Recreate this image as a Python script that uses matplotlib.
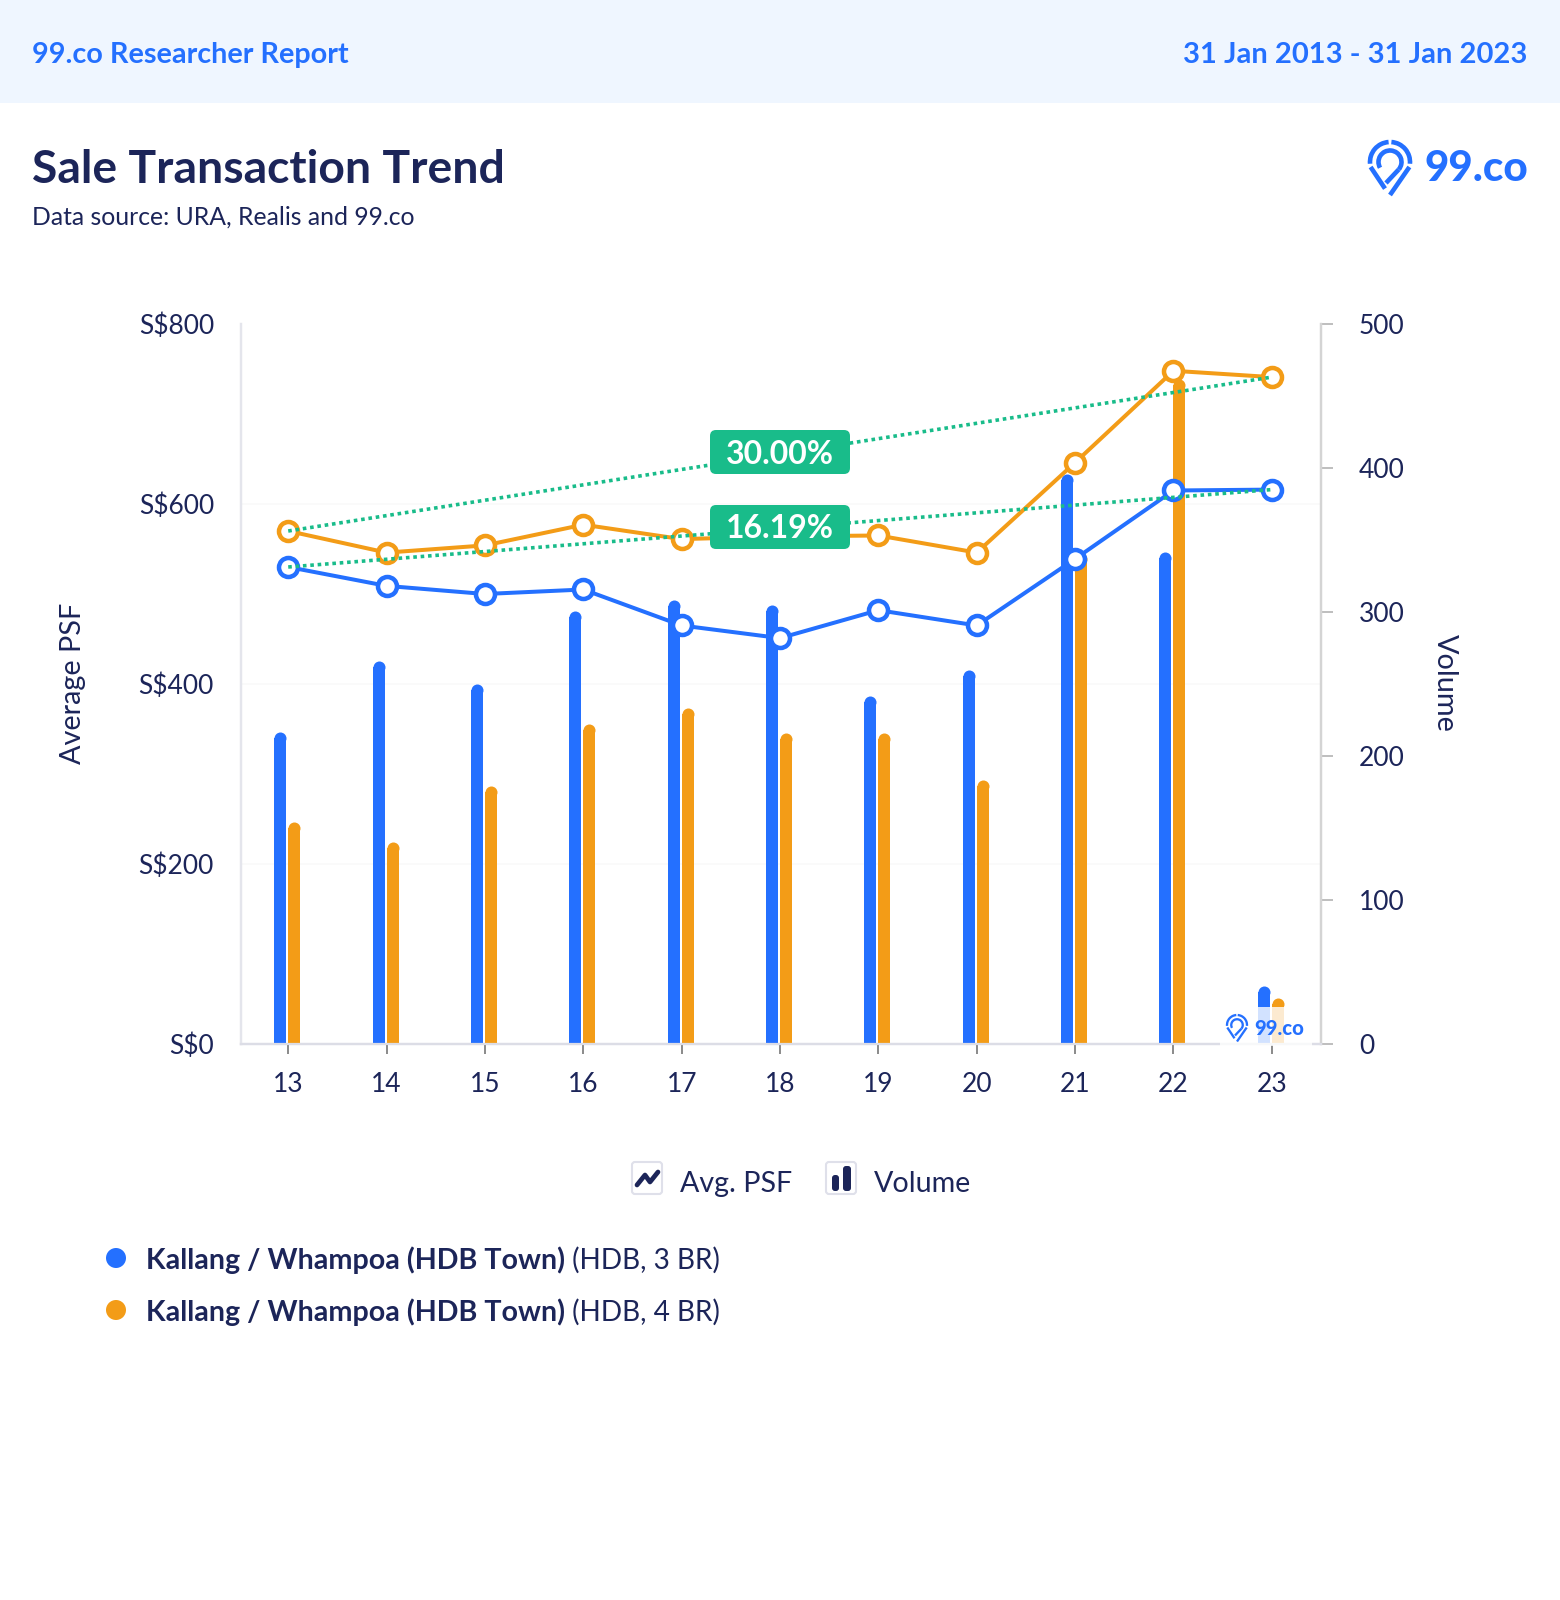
import matplotlib
matplotlib.use('Agg')
import matplotlib.pyplot as plt
from matplotlib.patches import FancyBboxPatch, Rectangle, Circle, Arc

plt.rcParams['font.family'] = ['Lato', 'DejaVu Sans']

# ==================== data ====================
years = ['13', '14', '15', '16', '17', '18', '19', '20', '21', '22', '23']
psf_3br = [530, 509, 500, 505, 465, 451, 482, 465, 539, 615, 616]
psf_4br = [570, 546, 554, 577, 561, 564, 565, 546, 646, 748, 741]
vol_3br = [217, 266, 250, 301, 308, 305, 242, 260, 396, 342, 40]
vol_4br = [154, 140, 179, 222, 233, 216, 216, 183, 341, 462, 32]
psf_ticks = [0, 200, 400, 600, 800]
vol_ticks = [0, 100, 200, 300, 400, 500]
growth_labels = ['30.00%', '16.19%']
series_names = ['Kallang / Whampoa (HDB Town)', 'Kallang / Whampoa (HDB Town)']
series_types = ['(HDB, 3 BR)', '(HDB, 4 BR)']

BLUE = '#2470ff'
ORANGE = '#f39c17'
GREEN = '#19bc8a'
NAVY = '#1c2559'
W, H = 1560, 1600
PX = 72 / 100  # pixels to points

fig = plt.figure(figsize=(15.6, 16), dpi=100, facecolor='white')

# plot area in pixels
L, R, T, B = 241, 1321, 324, 1044
ax = fig.add_axes([L / W, 1 - B / H, (R - L) / W, (B - T) / H])
vol = ax.twinx()
xs = list(range(len(years)))
xlim = (-0.48, 10.5)

# ==================== volume bars ====================
ax.set_zorder(2)
vol.set_zorder(1)
ax.patch.set_visible(False)
bar_w = 12 / 98.3
r_vol = 6 * 500 / (B - T)  # cap radius in volume units
for values, color, shift in [(vol_3br, BLUE, -8), (vol_4br, ORANGE, 6)]:
    bx = [x + shift / 98.3 for x in xs]
    vol.bar(bx, [v - r_vol for v in values], width=bar_w, color=color, linewidth=0, zorder=3)
    vol.plot(bx, [v - r_vol for v in values], ls='none', marker='o', ms=12 * PX,
             mec='none', mfc=color, zorder=3)
vol.set_xlim(*xlim)
vol.set_ylim(0, 500)
vol.set_yticks(vol_ticks)
# gridlines of the PSF axis, kept here so they stay behind the bars
vol.set_yticks([v * 500 / 800 for v in psf_ticks], minor=True)
vol.grid(axis='y', which='minor', color='#f9f9fa', lw=1.2, zorder=0)
vol.tick_params(axis='y', which='minor', length=0)
vol.tick_params(axis='y', length=12 * PX, width=1.3, color='#b9b9b9', pad=26 * PX,
                labelsize=19, labelcolor=NAVY)
vol.set_ylabel('Volume', rotation=270, fontsize=20.8, color=NAVY)
vol.yaxis.set_label_coords((1458 - L) / (R - L), 1 - (683 - T) / (B - T))

# ==================== PSF lines ====================
ax.set_xlim(*xlim)
ax.set_ylim(0, 800)
ax.set_xticks(xs)
ax.set_xticklabels(years)
ax.set_yticks(psf_ticks)
ax.set_yticklabels([f'S${v}' for v in psf_ticks])
ax.tick_params(axis='y', length=0, pad=27 * PX, labelsize=19, labelcolor=NAVY)
ax.tick_params(axis='x', length=10 * PX, width=1.2, color='#777777', pad=18 * PX,
               labelsize=19, labelcolor=NAVY)
ax.set_ylabel('Average PSF', fontsize=20.8, color=NAVY)
ax.yaxis.set_label_coords((86 - L) / (R - L), 1 - (683 - T) / (B - T))

for values, color in [(psf_3br, BLUE), (psf_4br, ORANGE)]:
    ax.plot(xs, values, color=color, lw=4 * PX, zorder=4, marker='o', ms=19 * PX,
            mfc='white', mec=color, mew=4.5 * PX)
for values in (psf_4br, psf_3br):
    ax.plot([xs[0], xs[-1]], [values[0], values[-1]], color=GREEN, lw=3.6 * PX,
            ls=(0, (1, 1.05)), zorder=5)

for a in (ax, vol):
    a.spines['top'].set_visible(False)
    a.spines['left'].set_color('#e4e5ec')
    a.spines['right'].set_color('#d4d4d4')
    a.spines['bottom'].set_color('#dcdde6')
    for s in a.spines.values():
        s.set_linewidth(1.6)

# ==================== overlay in pixel coordinates ====================
ov = fig.add_axes([0, 0, 1, 1], zorder=10)
ov.set_xlim(0, W)
ov.set_ylim(H, 0)
ov.axis('off')


def logo(x, y, s, text_size):
    # pin mark centred on (x, y), s = outer radius in pixels
    lw = s * 0.23 * PX
    kw = dict(color=BLUE, lw=lw, solid_capstyle='butt')
    ov.add_patch(Arc((x, y), 2 * s, 2 * s, theta1=175, theta2=266, color=BLUE, lw=lw))
    ov.add_patch(Arc((x, y), 2 * s, 2 * s, theta1=274, theta2=365, color=BLUE, lw=lw))
    ov.add_patch(Arc((x, y), 1.15 * s, 1.15 * s, theta1=150, theta2=400, color=BLUE, lw=lw))
    ov.plot([x - s * 0.97, x - s * 0.25], [y + s * 0.25, y + s * 1.33], **kw)
    ov.plot([x + s * 0.97, x + s * 0.0], [y + s * 0.25, y + s * 1.65], **kw)
    ov.plot([x + s * 0.44, x - s * 0.2], [y + s * 0.37, y + s * 1.05], **kw)
    ov.text(x + s * 1.75, y + s * 0.35, '99.co', color=BLUE, fontsize=text_size,
            fontweight=900, ha='left', va='center')


# header band
ov.add_patch(Rectangle((0, 0), W, 103, color='#eff6ff', lw=0))
ov.text(32, 55, '99.co Researcher Report', color=BLUE, fontsize=20.7, fontweight='bold',
        ha='left', va='center')
ov.text(1527, 55, '31 Jan 2013 - 31 Jan 2023', color=BLUE, fontsize=21, fontweight='bold',
        ha='right', va='center')
ov.text(32, 170, 'Sale Transaction Trend', color=NAVY, fontsize=33.3, fontweight='bold',
        ha='left', va='center')
ov.text(32, 217, 'Data source: URA, Realis and 99.co', color=NAVY, fontsize=17.8,
        ha='left', va='center')
logo(1390, 162, 20, 30.4)

# growth badges
for label, cy in zip(growth_labels, (452, 527)):
    ov.add_patch(FancyBboxPatch((713, cy - 19), 134, 38, boxstyle='round,pad=3,rounding_size=6',
                                fc=GREEN, ec='none', mutation_aspect=1))
    ov.text(780, cy + 2, label, color='white', fontsize=23, fontweight='bold',
            ha='center', va='center')

# watermark over the last bars
ov.add_patch(Rectangle((1220, 1007), 92, 39, fc='white', ec='none', alpha=0.8))
logo(1237, 1025, 10, 14.6)

# chart type toggles
for bx in (632, 826):
    ov.add_patch(FancyBboxPatch((bx + 2, 1164), 26, 28, boxstyle='round,pad=2,rounding_size=3',
                                fc='white', ec='#dfe0ea', lw=1.5))
ov.plot([637, 645, 650, 658], [1185, 1175, 1182, 1172], color=NAVY, lw=3.4, solid_capstyle='round',
        solid_joinstyle='round')
ov.add_patch(FancyBboxPatch((832, 1175), 7, 16, boxstyle='round,pad=0,rounding_size=3', fc=NAVY, ec='none'))
ov.add_patch(FancyBboxPatch((843, 1166), 8, 25, boxstyle='round,pad=0,rounding_size=3', fc=NAVY, ec='none'))
ov.text(680, 1184, 'Avg. PSF', color=NAVY, fontsize=20.6, ha='left', va='center')
ov.text(874, 1184, 'Volume', color=NAVY, fontsize=20.6, ha='left', va='center')

# series legend
for cy, color, name, kind in zip((1258, 1310), (BLUE, ORANGE), series_names, series_types):
    ov.add_patch(Circle((116, cy), 10, fc=color, ec='none'))
    t = ov.text(146, cy + 2, name, color=NAVY, fontsize=20.6, fontweight='bold', ha='left', va='center')
    ov.annotate(' ' + kind, xy=(1, 0.5), xycoords=t, color=NAVY, fontsize=20.2, ha='left', va='center')

fig.savefig('out.png', dpi=100)
